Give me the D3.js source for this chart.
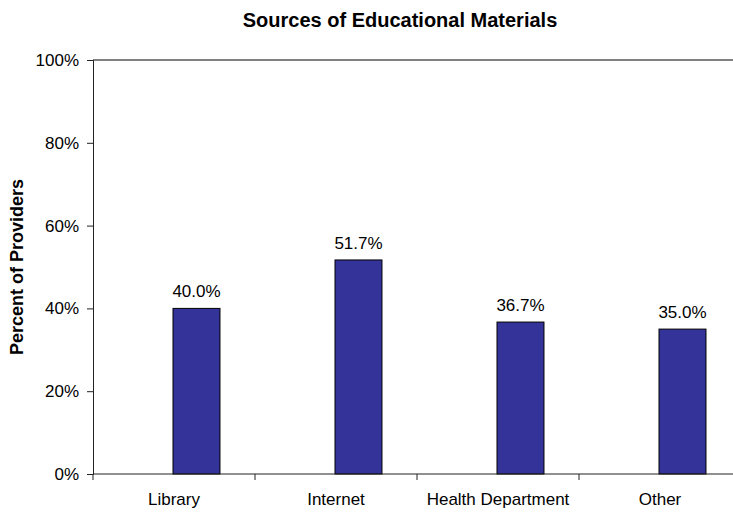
<!DOCTYPE html>
<html>
<head>
<meta charset="utf-8">
<script src="https://cdn.jsdelivr.net/npm/d3@7"></script>
<style>
  body { margin: 0; background: #fff; }
  svg { font-family: "Liberation Sans", Arial, sans-serif; }
</style>
</head>
<body>
<div id="chart"></div>
<script>
const categories = ['Library', 'Internet', 'Health Department', 'Other'];
const values = [40.0, 51.7, 36.7, 35.0];
const yTicks = [0, 20, 40, 60, 80, 100];

const width = 733, height = 514;
const margin = { top: 60, right: -8, bottom: 40, left: 93 };
const plotW = width - margin.left - margin.right;
const plotH = height - margin.top - margin.bottom;

const svg = d3.select('#chart').append('svg')
  .attr('width', width)
  .attr('height', height);

// title
svg.append('text')
  .attr('x', 400)
  .attr('y', 27)
  .attr('text-anchor', 'middle')
  .style('font-size', '20px')
  .style('font-weight', 'bold')
  .text('Sources of Educational Materials');

// y axis label
svg.append('text')
  .attr('transform', `translate(23, ${margin.top + plotH / 2}) rotate(-90)`)
  .attr('text-anchor', 'middle')
  .style('font-size', '18px')
  .style('font-weight', 'bold')
  .text('Percent of Providers');

const chart = svg.append('g')
  .attr('transform', `translate(${margin.left}, ${margin.top})`);

// category slots (tick marks sit on slot edges)
const xScale = d3.scaleBand()
  .domain(categories)
  .range([0, plotW])
  .padding(0);
const barW = xScale.step() * 0.29;
const yScale = d3.scaleLinear().domain([0, 100]).range([plotH, 0]);

// plot area top border
chart.append('line')
  .attr('x1', 0).attr('x2', plotW)
  .attr('y1', yScale(100)).attr('y2', yScale(100))
  .attr('stroke', '#808080')
  .attr('stroke-width', 2);

// bars: left edge at slot centre (empty second series in the original)
const barX = c => xScale(c) + xScale.bandwidth() / 2 - 1;

chart.selectAll('.bar')
  .data(values)
  .enter()
  .append('rect')
  .attr('class', 'bar')
  .attr('x', (d, i) => barX(categories[i]))
  .attr('y', d => yScale(d))
  .attr('width', barW)
  .attr('height', d => plotH - yScale(d))
  .attr('fill', '#333399')
  .attr('stroke', '#000')
  .attr('stroke-width', 1);

// value labels
chart.selectAll('.val')
  .data(values)
  .enter()
  .append('text')
  .attr('class', 'val')
  .attr('x', (d, i) => barX(categories[i]) + barW / 2)
  .attr('y', d => yScale(d) - 11)
  .attr('text-anchor', 'middle')
  .style('font-size', '17px')
  .text(d => d.toFixed(1) + '%');

// y axis
const yAxis = chart.append('g')
  .attr('class', 'axis axis-y')
  .call(d3.axisLeft(yScale).tickValues(yTicks).tickSize(6).tickPadding(8).tickFormat(d => d + '%'));
yAxis.select('.domain').attr('stroke', '#222');
yAxis.selectAll('.tick line').attr('stroke', '#222');
yAxis.selectAll('.tick text')
  .style('font-size', '17px')
  .style('font-family', '"Liberation Sans", Arial, sans-serif')
  .attr('fill', '#000');

// x axis: ticks on slot edges, labels at slot centres
const edges = categories.map(c => xScale(c)).concat([plotW]);
const xAxis = chart.append('g')
  .attr('class', 'axis axis-x')
  .attr('transform', `translate(0, ${plotH})`);
xAxis.append('line')
  .attr('x1', 0).attr('x2', plotW)
  .attr('stroke', '#222');
xAxis.selectAll('.xtick')
  .data(edges)
  .enter()
  .append('line')
  .attr('class', 'xtick')
  .attr('x1', d => d).attr('x2', d => d)
  .attr('y1', 0).attr('y2', 6)
  .attr('stroke', '#222');
xAxis.selectAll('.xlabel')
  .data(categories)
  .enter()
  .append('text')
  .attr('class', 'xlabel')
  .attr('x', d => xScale(d) + xScale.bandwidth() / 2)
  .attr('y', 31)
  .attr('text-anchor', 'middle')
  .style('font-size', '17px')
  .text(d => d);
</script>
</body>
</html>
